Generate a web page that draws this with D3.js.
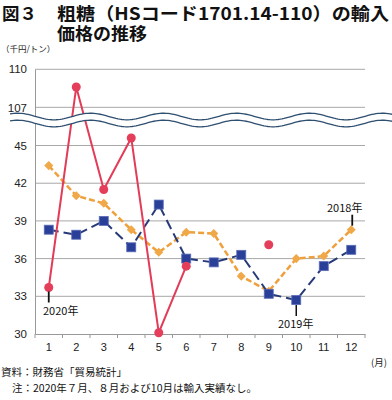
<!DOCTYPE html>
<html><head><meta charset="utf-8">
<script src="https://cdn.jsdelivr.net/npm/d3@7"></script>
<style>body{margin:0;background:#fff;}svg{display:block;font-family:"Noto Sans CJK JP","Noto Sans",sans-serif;}</style>
</head><body><svg id="c" width="392" height="400"></svg>
<script>
const months = [1,2,3,4,5,6,7,8,9,10,11,12];
const yTicks = [30,33,36,39,42,45,107,110];
const s2020 = [33.7,108.6,41.5,45.6,30.1,35.4,null,null,37.1,null,null,null];
const s2019 = [38.3,37.9,39.0,36.9,40.3,36.0,35.7,36.3,33.2,32.7,35.4,36.7];
const s2018 = [43.4,41.0,40.4,38.3,36.5,38.1,38.0,34.6,33.4,36.0,36.2,38.3];

const svg = d3.select("#c");
const L=35, R=365, T=69, B=334;
const x = d3.scaleBand().domain(months).range([L,R]);
const cx = m => x(m) + x.bandwidth()/2;
// broken axis: lower part 30–47, upper part 106–110, break at y=120
const y = d3.scaleLinear().domain([30,47.03,106,110]).range([B,120,120,69.3]);

// title
const title = svg.append("g").attr("font-weight","bold").attr("fill","#111").attr("font-size",17.5);
title.append("text").attr("x",2).attr("y",20).text("図３");
title.append("text").attr("x",57).attr("y",20).attr("textLength",332).attr("lengthAdjust","spacingAndGlyphs").text("粗糖（HSコード1701.14-110）の輸入");
title.append("text").attr("x",57).attr("y",39.5).attr("textLength",90).attr("lengthAdjust","spacingAndGlyphs").text("価格の推移");
svg.append("text").attr("x",1).attr("y",52).attr("font-size",8.5).attr("fill","#222").text("（千円/トン）");

// gridlines
svg.append("g").selectAll("line").data(yTicks.filter(v=>v!==30)).join("line")
  .attr("x1",L).attr("x2",R).attr("y1",d=>y(d)).attr("y2",d=>y(d))
  .attr("stroke","#a8a8a8").attr("stroke-width",1);

// y axis
const ya = svg.append("g").attr("transform",`translate(${L},0)`)
  .call(d3.axisLeft(y).tickValues(yTicks).tickSize(0).tickPadding(8).tickFormat(d3.format("d")));
ya.select(".domain").attr("stroke","#999");
ya.selectAll("text").attr("font-size",11.5).attr("fill","#222").attr("font-family","Liberation Sans, Arial, sans-serif");

// x axis
const xa = svg.append("g").attr("transform",`translate(0,${B})`)
  .call(d3.axisBottom(x).tickSize(0).tickPadding(9));
xa.select(".domain").attr("stroke","#999");
xa.selectAll("text").attr("font-size",11).attr("fill","#222").attr("font-family","Liberation Sans, Arial, sans-serif");
svg.append("g").selectAll("line").data(d3.range(13)).join("line")
  .attr("x1",i=>L+i*x.step()).attr("x2",i=>L+i*x.step())
  .attr("y1",B).attr("y2",B+4).attr("stroke","#999");
svg.append("text").attr("x",371).attr("y",366).attr("font-size",9.5).attr("fill","#222").text("(月)");

const pts = arr => arr.map((v,i)=>({m:months[i],v})).filter(d=>d.v!=null);
const line = d3.line().defined(d=>d.v!=null).x(d=>cx(d.m)).y(d=>y(d.v));
const mk = arr => arr.map((v,i)=>({m:months[i],v}));

// 2018 orange
svg.append("path").datum(mk(s2018)).attr("d",line).attr("fill","none")
  .attr("stroke","#efa03a").attr("stroke-width",2.5).attr("stroke-dasharray","6,3");
svg.append("g").selectAll("rect").data(pts(s2018)).join("rect")
  .attr("x",-3.2).attr("y",-3.2).attr("width",6.4).attr("height",6.4)
  .attr("transform",d=>`translate(${cx(d.m)},${y(d.v)}) rotate(45)`)
  .attr("fill","#f0a848");

// 2019 blue
svg.append("path").datum(mk(s2019)).attr("d",line).attr("fill","none")
  .attr("stroke","#263a78").attr("stroke-width",2).attr("stroke-dasharray","10,5");
svg.append("g").selectAll("rect").data(pts(s2019)).join("rect")
  .attr("x",d=>cx(d.m)-4.5).attr("y",d=>y(d.v)-4.5).attr("width",9).attr("height",9)
  .attr("fill","#2a3f98").attr("stroke","#5a6cb8").attr("stroke-width",0.8);

// 2020 red
svg.append("path").datum(mk(s2020)).attr("d",line).attr("fill","none")
  .attr("stroke","#e23c58").attr("stroke-width",2);
svg.append("g").selectAll("circle").data(pts(s2020)).join("circle")
  .attr("cx",d=>cx(d.m)).attr("cy",d=>y(d.v)).attr("r",4.5).attr("fill","#e43e5a");

// break wave
const wave = (off) => d3.range(10, 393, 2).map(px => [px, 120 + off + 3.3*Math.cos(2*Math.PI*(px-127)/73)]);
const waveTop = wave(-3.5), waveBot = wave(3.5);
svg.append("path").attr("d", d3.line()(waveTop.concat(waveBot.slice().reverse())) + "Z").attr("fill","#fff");
svg.append("path").attr("d", d3.line()(waveTop)).attr("fill","none").attr("stroke","#2f4f70").attr("stroke-width",1.3);
svg.append("path").attr("d", d3.line()(waveBot)).attr("fill","none").attr("stroke","#2f4f70").attr("stroke-width",1.3);

// annotations
const ann = svg.append("g").attr("font-size",11).attr("fill","#111");
ann.append("line").attr("x1",cx(1)).attr("x2",cx(1)).attr("y1",y(s2020[0])+4).attr("y2",y(s2020[0])+15).attr("stroke","#111").attr("stroke-width",1.8);
ann.append("text").attr("x",43).attr("y",315).text("2020年");
ann.append("line").attr("x1",cx(10)).attr("x2",cx(10)).attr("y1",y(s2019[9])+5).attr("y2",y(s2019[9])+16).attr("stroke","#111").attr("stroke-width",1.5);
ann.append("text").attr("x",278).attr("y",328).text("2019年");
ann.append("line").attr("x1",cx(12)+1).attr("x2",cx(12)+1).attr("y1",y(s2018[11])-4).attr("y2",y(s2018[11])-15).attr("stroke","#111").attr("stroke-width",1.8);
ann.append("text").attr("x",327).attr("y",212).text("2018年");

// footer
svg.append("text").attr("x",1).attr("y",376).attr("font-size",10.5).attr("fill","#111").text("資料：財務省「貿易統計」");
svg.append("text").attr("x",12).attr("y",392).attr("font-size",10.5).attr("fill","#111").text("注：2020年７月、８月および10月は輸入実績なし。");
</script></body></html>
